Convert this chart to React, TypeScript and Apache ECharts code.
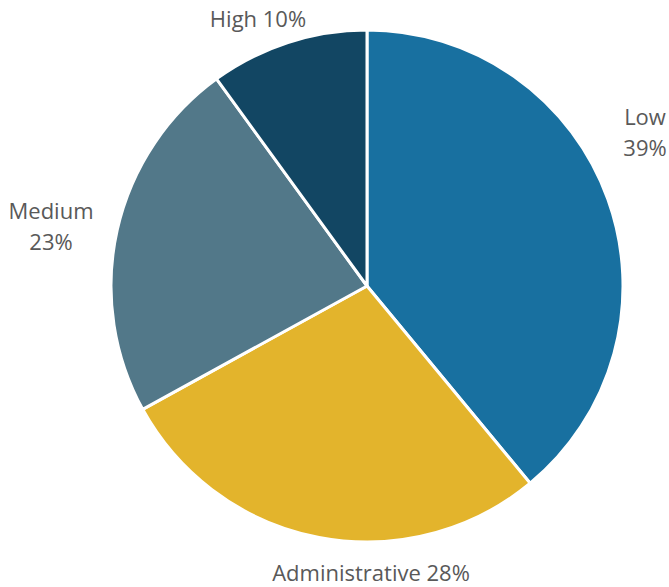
import React, { useEffect, useRef } from "react";
import * as echarts from "echarts";

const categories = ["Low", "Administrative", "Medium", "High"];
const values = [39, 28, 23, 10];
const colors = ["#1870a0", "#e3b42c", "#527889", "#124663"];
const labelTexts = ["Low\n39%", "Administrative 28%", "Medium\n23%", "High 10%"];

export default function App() {
  const ref = useRef<HTMLDivElement>(null);
  useEffect(() => {
    document.body.style.margin = "0";
    if (!ref.current) return;
    const chart = echarts.init(ref.current, null, { renderer: "svg" });
    const labelPos: Record<number, [number, number]> = {
      0: [645, 131],
      1: [371, 572],
      2: [51, 225],
      3: [258, 18],
    };
    chart.setOption({
      animation: false,
      backgroundColor: "#ffffff",
      series: [
        {
          type: "pie",
          center: [367, 286],
          radius: 256,
          startAngle: 90,
          clockwise: true,
          data: categories.map((c, i) => ({
            name: c,
            value: values[i],
            itemStyle: { color: colors[i] },
            label: { formatter: labelTexts[i] },
          })),
          itemStyle: { borderColor: "#ffffff", borderWidth: 3 },
          label: {
            show: true,
            position: "outside",
            color: "#595959",
            fontSize: 22,
            fontFamily: "Open Sans",
            lineHeight: 31,
            align: "center",
            verticalAlign: "middle",
            overflow: "none",
            width: 300,
          },
          labelLine: { show: false },
          labelLayout: (params: any) => {
            const p = labelPos[params.dataIndex];
            return { x: p[0], y: p[1], align: "center", verticalAlign: "middle", hideOverlap: false };
          },
        },
      ],
    });
    return () => chart.dispose();
  }, []);
  return <div ref={ref} style={{ width: 669, height: 587 }} />;
}
